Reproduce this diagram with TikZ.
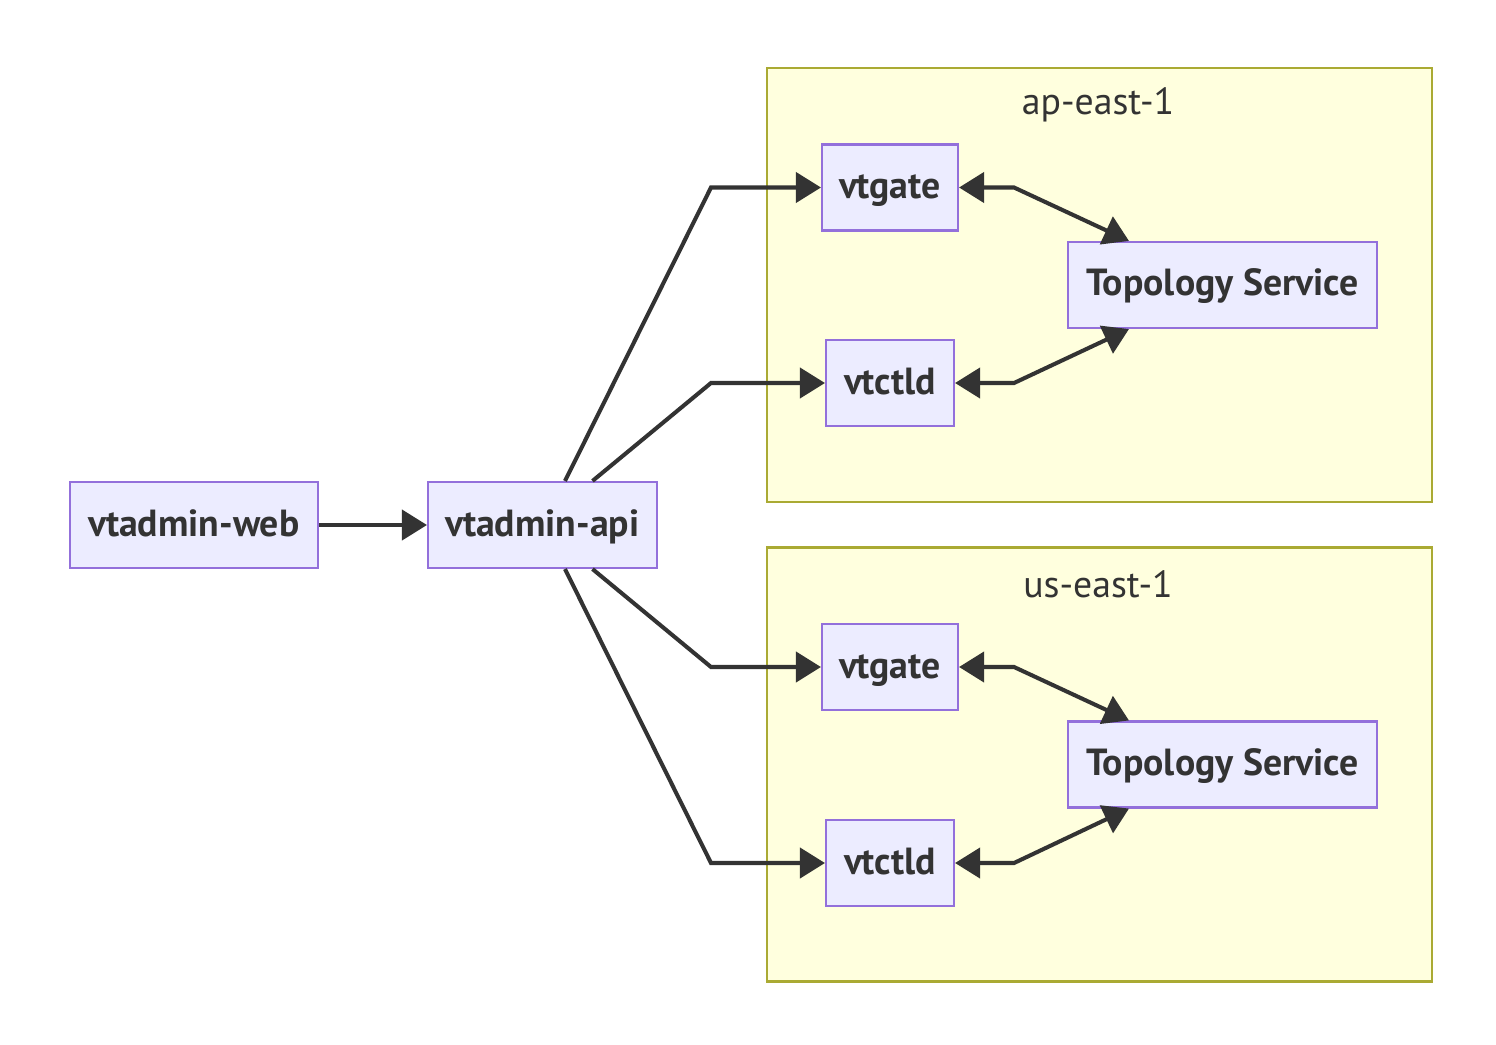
\documentclass[tikz,border=0pt]{standalone}
\usepackage{fontspec}
\setmainfont{PT Sans}
\usepackage{tikz}
\usetikzlibrary{arrows.meta, positioning}
\definecolor{svcfill}{HTML}{ECECFF}
\definecolor{svcedge}{HTML}{9370DB}
\definecolor{zonefill}{HTML}{FFFFDE}
\definecolor{zoneedge}{HTML}{AAAA33}
\definecolor{mydark}{HTML}{333333}
\tikzset{
  svc/.style={rectangle, draw=svcedge, fill=svcfill, line width=1.2pt,
    minimum height=1.72cm, inner sep=0pt, text=mydark,
    text height=0.52cm, text depth=0.08cm,
    font=\fontsize{21.5}{25}\selectfont\bfseries},
  zone/.style={rectangle, draw=zoneedge, fill=zonefill, line width=1.2pt,
    minimum width=13.3cm, minimum height=8.68cm},
  zonelabel/.style={text=mydark, font=\fontsize{21.5}{25}\selectfont},
  arrow/.style={-{Triangle[length=0.5cm,width=0.6cm]}, line width=2.3pt, color=mydark},
  biarrow/.style={{Triangle[length=0.5cm,width=0.6cm]}-{Triangle[length=0.5cm,width=0.6cm]},
    line width=2.3pt, color=mydark}
}

\begin{document}
\begin{tikzpicture}[x=0.02cm, y=-0.02cm]
  \useasboundingbox (0,0) rectangle (1496,1044);

  % Zones
  \node[zone] (zone_ap) at (1099.5, 285) {};
  \node[zone] (zone_us) at (1099.5, 764.5) {};
  \node[zonelabel] (lbl_ap) at (1098, 105) {ap-east-1};
  \node[zonelabel] (lbl_us) at (1098, 584) {us-east-1};

  % Admin side
  \node[svc, minimum width=4.96cm] (web) at (194, 525) {vtadmin-web};
  \node[svc, minimum width=4.58cm] (api) at (542.5, 525) {vtadmin-api};

  % ap-east-1 services
  \node[svc, minimum width=2.72cm] (gate_ap) at (890, 187.5) {vtgate};
  \node[svc, minimum width=2.56cm] (ctld_ap) at (890, 383) {vtctld};
  \node[svc, minimum width=6.18cm] (topo_ap) at (1222.5, 285) {Topology Service};

  % us-east-1 services
  \node[svc, minimum width=2.72cm] (gate_us) at (890, 667) {vtgate};
  \node[svc, minimum width=2.56cm] (ctld_us) at (890, 863) {vtctld};
  \node[svc, minimum width=6.18cm] (topo_us) at (1222.5, 764.5) {Topology Service};

  % Connections
  \draw[arrow] (web) -- (api);

  \draw[arrow] ([xshift=0.45cm]api.north) -- ([xshift=-2.2cm]gate_ap.west) -- (gate_ap);
  \draw[arrow] ([xshift=1.0cm]api.north) -- ([xshift=-2.28cm]ctld_ap.west) -- (ctld_ap);
  \draw[arrow] ([xshift=1.0cm]api.south) -- ([xshift=-2.2cm]gate_us.west) -- (gate_us);
  \draw[arrow] ([xshift=0.45cm]api.south) -- ([xshift=-2.28cm]ctld_us.west) -- (ctld_us);

  % Topology links
  \draw[biarrow] (gate_ap) -- ([xshift=1.1cm]gate_ap.east) -- ([xshift=1.24cm]topo_ap.north west);
  \draw[biarrow] (ctld_ap) -- ([xshift=1.18cm]ctld_ap.east) -- ([xshift=1.24cm]topo_ap.south west);
  \draw[biarrow] (gate_us) -- ([xshift=1.1cm]gate_us.east) -- ([xshift=1.24cm]topo_us.north west);
  \draw[biarrow] (ctld_us) -- ([xshift=1.18cm]ctld_us.east) -- ([xshift=1.24cm]topo_us.south west);
\end{tikzpicture}
\end{document}
